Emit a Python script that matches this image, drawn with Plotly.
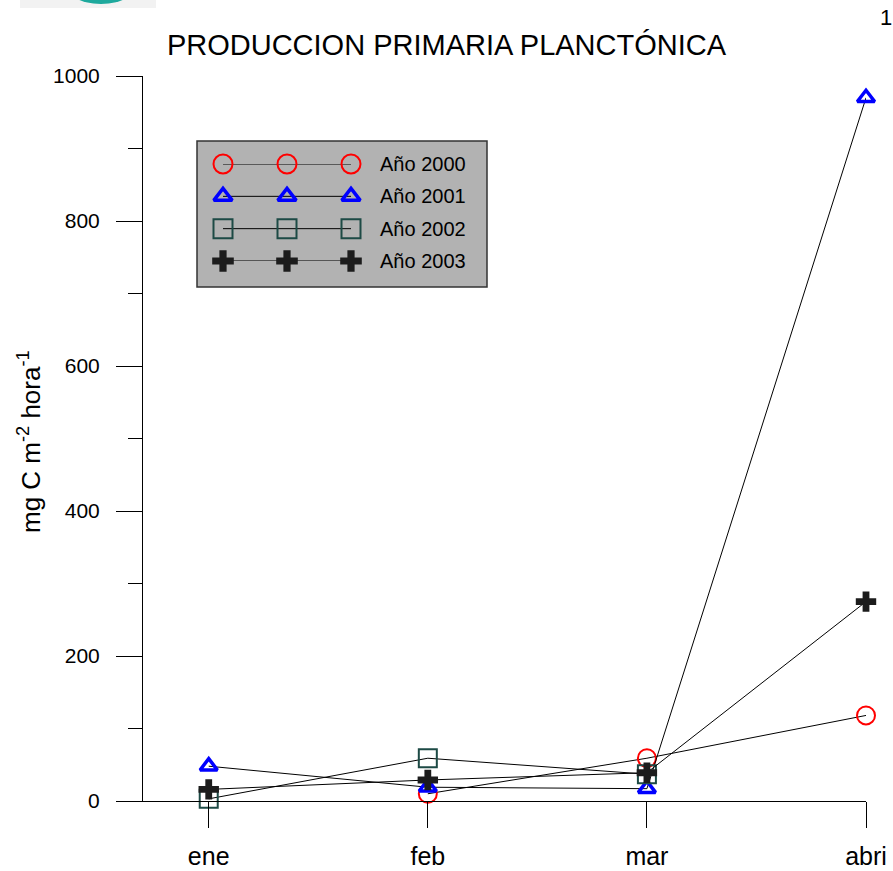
import plotly.graph_objects as go

# Monthly primary production, mg C m-2 h-1
meses = ["ene", "feb", "mar", "abri"]
anio_2000 = [None, 10, 59, 118]
anio_2001 = [48, 19, 17, 970]
anio_2002 = [3, 59, 37, None]
anio_2003 = [16, 29, 39, 275]

series = [
    ("Año 2000", anio_2000, "circle-open", "#ff0000", 18, 2),
    ("Año 2001", anio_2001, "triangle-up-open", "#0000ff", 15, 3.5),
    ("Año 2002", anio_2002, "square-open", "#1d4a45", 18, 2),
    ("Año 2003", anio_2003, "cross", "#1c1c1c", 17, 0),
]

FONT = "Liberation Sans, Arial, sans-serif"
W, H = 893, 871
ML, MR, MT, MB = 143, 27, 76, 70
PW, PH = W - ML - MR, H - MT - MB


def px_x(px):
    return (px - ML) / PW


def px_y(py):
    return (H - MB - py) / PH


fig = go.Figure()

for name, vals, sym, col, size, lw in series:
    fig.add_trace(go.Scatter(
        x=meses, y=vals, mode="lines+markers", name=name,
        line=dict(color="#000000", width=1),
        marker=dict(symbol=sym, size=size, color=col,
                    line=dict(color=col, width=lw)),
        cliponaxis=False, showlegend=False,
    ))

# Legend samples: a line with three markers per series, drawn on a small inset axis
for i, (name, vals, sym, col, size, lw) in enumerate(series):
    fig.add_trace(go.Scatter(
        x=[0, 1, 2], y=[i, i, i], mode="lines+markers",
        xaxis="x2", yaxis="y2",
        line=dict(color="#555555" if sym == "cross" else "#000000",
                  width=2 if sym == "cross" else 1),
        marker=dict(symbol=sym, size=size + 1, color=col,
                    line=dict(color=col, width=lw)),
        cliponaxis=False, showlegend=False, hoverinfo="skip",
    ))
    fig.add_annotation(
        x=px_x(378), xref="paper", y=i, yref="y2",
        text=name, showarrow=False, xanchor="left", yanchor="middle",
        font=dict(family=FONT, size=20, color="#000000"),
    )

shapes = [
    # legend box
    dict(type="rect", xref="paper", yref="paper",
         x0=px_x(197), x1=px_x(487), y0=px_y(287), y1=px_y(141),
         fillcolor="#b2b2b2", line=dict(color="#333333", width=1.5),
         layer="below"),
    # letterhead strip and emblem at the top-left corner
    dict(type="rect", xref="paper", yref="paper",
         x0=px_x(20), x1=px_x(156), y0=px_y(8), y1=px_y(-2),
         fillcolor="#f2f2f2", line=dict(width=0), layer="below"),
    dict(type="circle", xref="paper", yref="paper",
         x0=px_x(62), x1=px_x(140), y0=px_y(4), y1=px_y(-44),
         fillcolor="#1ea99d", line=dict(width=0), layer="below"),
]

fig.add_annotation(
    x=px_x(30), xref="paper", y=px_y(442), yref="paper",
    text="mg C m<sup>-2</sup> hora<sup>-1</sup>", textangle=-90,
    showarrow=False, xanchor="center", yanchor="middle",
    font=dict(family=FONT, size=26, color="#000000"),
)
fig.add_annotation(
    x=px_x(886), xref="paper", y=px_y(18), yref="paper",
    text="1", showarrow=False, xanchor="center", yanchor="middle",
    font=dict(family=FONT, size=22, color="#000000"),
)

fig.update_layout(
    width=W, height=H,
    margin=dict(l=ML, r=MR, t=MT, b=MB, pad=0),
    paper_bgcolor="#ffffff", plot_bgcolor="rgba(0,0,0,0)",
    font=dict(family=FONT, color="#000000"),
    title=dict(text="PRODUCCION PRIMARIA PLANCTÓNICA", x=0.5, xref="container",
               xanchor="center", y=1 - 45 / H, yanchor="middle",
               automargin=False,
               font=dict(family=FONT, size=29, color="#000000")),
    shapes=shapes,
    showlegend=False,
    xaxis=dict(
        type="category", range=[-0.30, 3.0], showgrid=False, zeroline=False,
        showline=True, linecolor="#000000", linewidth=1, automargin=False,
        ticks="outside", ticklen=26, tickcolor="#000000", tickwidth=1,
        ticklabelstandoff=7,
        tickfont=dict(family=FONT, size=25, color="#000000"),
    ),
    yaxis=dict(
        range=[0, 1000], showgrid=False, zeroline=False, automargin=False,
        showline=True, linecolor="#000000", linewidth=1,
        tickmode="linear", tick0=0, dtick=200,
        ticks="outside", ticklen=26, tickcolor="#000000", tickwidth=1,
        ticklabelstandoff=12,
        tickfont=dict(family=FONT, size=21, color="#000000"),
        minor=dict(dtick=100, ticks="outside", ticklen=14,
                   tickcolor="#000000", tickwidth=1),
    ),
    xaxis2=dict(domain=[px_x(223), px_x(351)], range=[0, 2], anchor="y2",
                visible=False, fixedrange=True),
    yaxis2=dict(domain=[px_y(261), px_y(164)], range=[3, 0], anchor="x2",
                visible=False, fixedrange=True),
)

fig.write_html("out.html")
